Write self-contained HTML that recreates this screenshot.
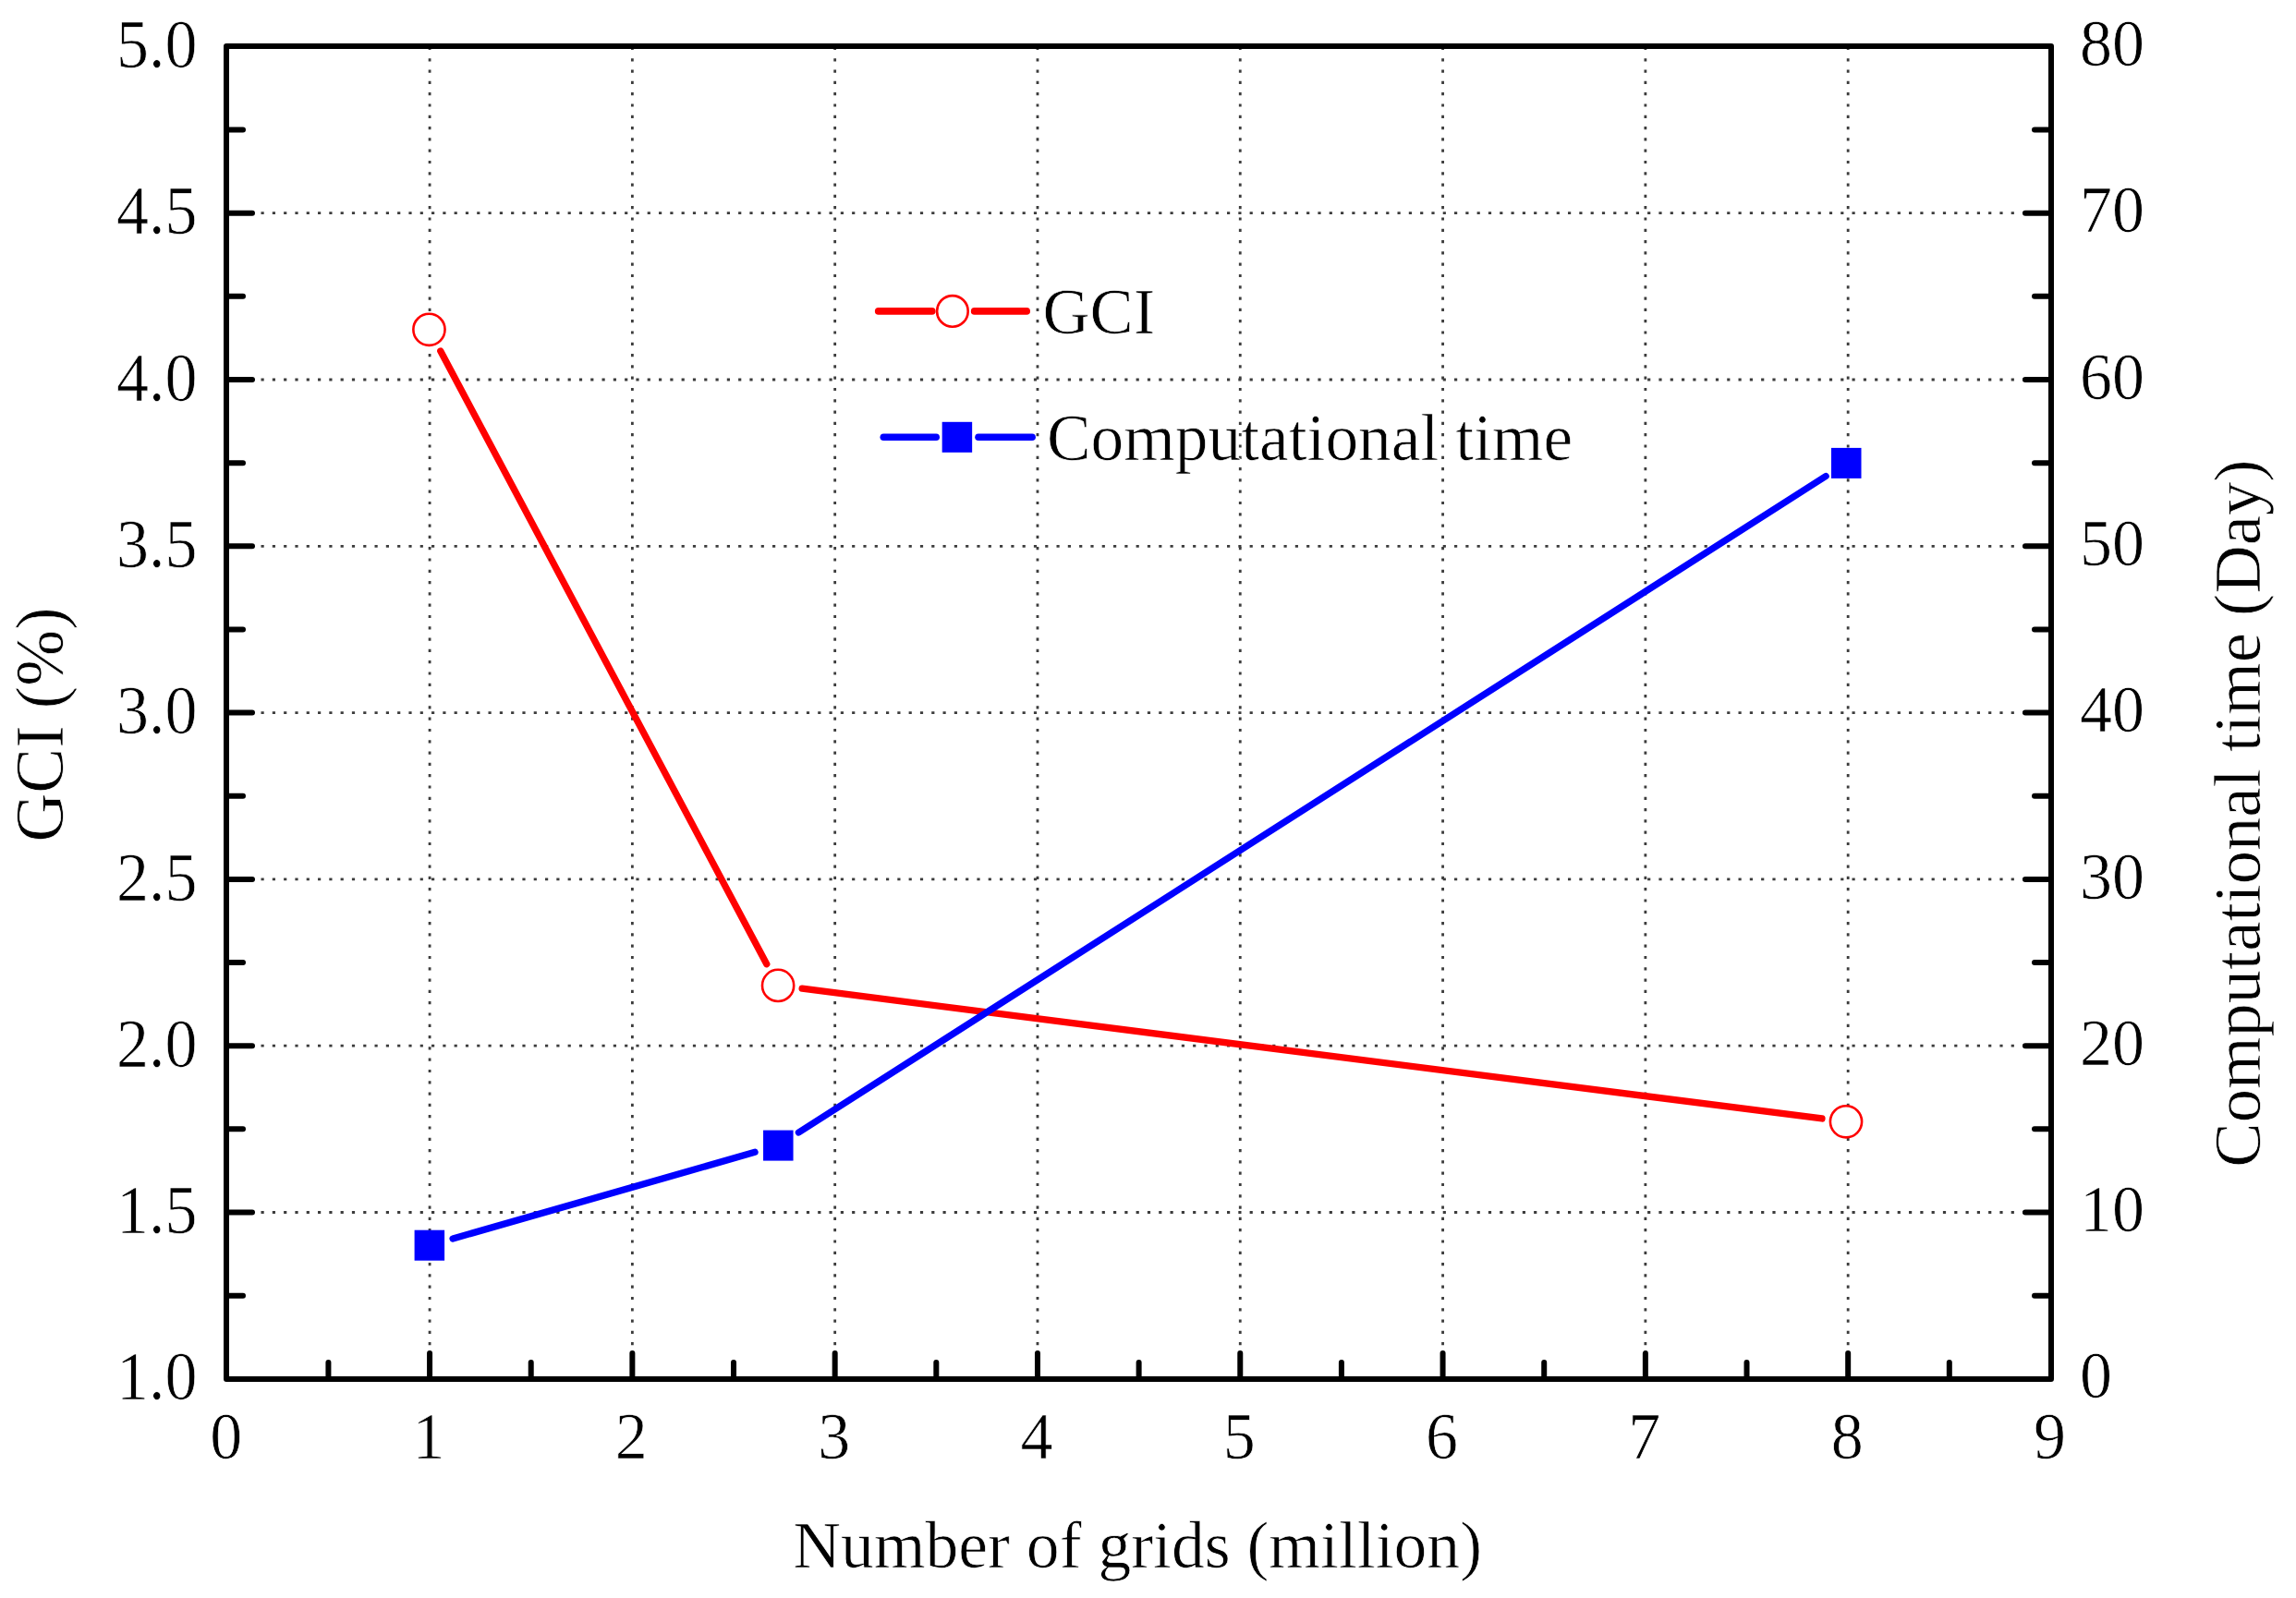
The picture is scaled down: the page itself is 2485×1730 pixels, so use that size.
<!DOCTYPE html>
<html lang="en"><head><meta charset="utf-8"><title>GCI and computational time vs number of grids</title>
<style>html,body{margin:0;padding:0;background:#fff}body{width:2485px;height:1730px;overflow:hidden}svg{display:block}text{font-family:"Liberation Serif","Times New Roman",Times,serif;font-size:70px;fill:#000;stroke:#fff;stroke-width:0.7px}</style></head><body>
<svg width="2485" height="1730" viewBox="0 0 2485 1730">
<rect width="2485" height="1730" fill="#fff"/>
<g stroke="#3c3c3c" stroke-width="2.8" stroke-dasharray="3.2 9.1" fill="none">
<line x1="465.07" y1="50.90" x2="465.07" y2="1493.10"/>
<line x1="684.37" y1="50.90" x2="684.37" y2="1493.10"/>
<line x1="903.67" y1="50.90" x2="903.67" y2="1493.10"/>
<line x1="1122.97" y1="50.90" x2="1122.97" y2="1493.10"/>
<line x1="1342.27" y1="50.90" x2="1342.27" y2="1493.10"/>
<line x1="1561.57" y1="50.90" x2="1561.57" y2="1493.10"/>
<line x1="1780.87" y1="50.90" x2="1780.87" y2="1493.10"/>
<line x1="2000.17" y1="50.90" x2="2000.17" y2="1493.10"/>
<line x1="245.60" y1="1312.50" x2="2220.00" y2="1312.50"/>
<line x1="245.60" y1="1132.20" x2="2220.00" y2="1132.20"/>
<line x1="245.60" y1="951.90" x2="2220.00" y2="951.90"/>
<line x1="245.60" y1="771.60" x2="2220.00" y2="771.60"/>
<line x1="245.60" y1="591.30" x2="2220.00" y2="591.30"/>
<line x1="245.60" y1="411.00" x2="2220.00" y2="411.00"/>
<line x1="245.60" y1="230.70" x2="2220.00" y2="230.70"/>
</g>
<line x1="476.78" y1="379.98" x2="829.77" y2="1043.72" stroke="#f00" stroke-width="7.3" stroke-linecap="round"/>
<line x1="868.14" y1="1070.22" x2="1971.96" y2="1210.98" stroke="#f00" stroke-width="7.3" stroke-linecap="round"/>
<line x1="490.09" y1="1340.97" x2="817.06" y2="1247.33" stroke="#00f" stroke-width="7.3" stroke-linecap="round"/>
<line x1="864.42" y1="1225.96" x2="1976.13" y2="515.54" stroke="#00f" stroke-width="7.3" stroke-linecap="round"/>
<circle cx="464.45" cy="356.80" r="17.10" fill="#fff" stroke="#f00" stroke-width="2.6"/>
<circle cx="842.10" cy="1066.90" r="17.10" fill="#fff" stroke="#f00" stroke-width="2.6"/>
<circle cx="1998.00" cy="1214.30" r="17.10" fill="#fff" stroke="#f00" stroke-width="2.6"/>
<rect x="448.60" y="1331.70" width="32.5" height="33.0" fill="#00f"/>
<rect x="826.05" y="1223.60" width="32.5" height="33.0" fill="#00f"/>
<rect x="1982.00" y="484.90" width="32.5" height="33.0" fill="#00f"/>
<g stroke="#000" stroke-width="6" stroke-linecap="round">
<line x1="355.42" y1="1491.10" x2="355.42" y2="1475.10"/>
<line x1="465.07" y1="1491.10" x2="465.07" y2="1465.10"/>
<line x1="574.72" y1="1491.10" x2="574.72" y2="1475.10"/>
<line x1="684.37" y1="1491.10" x2="684.37" y2="1465.10"/>
<line x1="794.02" y1="1491.10" x2="794.02" y2="1475.10"/>
<line x1="903.67" y1="1491.10" x2="903.67" y2="1465.10"/>
<line x1="1013.32" y1="1491.10" x2="1013.32" y2="1475.10"/>
<line x1="1122.97" y1="1491.10" x2="1122.97" y2="1465.10"/>
<line x1="1232.62" y1="1491.10" x2="1232.62" y2="1475.10"/>
<line x1="1342.27" y1="1491.10" x2="1342.27" y2="1465.10"/>
<line x1="1451.92" y1="1491.10" x2="1451.92" y2="1475.10"/>
<line x1="1561.57" y1="1491.10" x2="1561.57" y2="1465.10"/>
<line x1="1671.22" y1="1491.10" x2="1671.22" y2="1475.10"/>
<line x1="1780.87" y1="1491.10" x2="1780.87" y2="1465.10"/>
<line x1="1890.52" y1="1491.10" x2="1890.52" y2="1475.10"/>
<line x1="2000.17" y1="1491.10" x2="2000.17" y2="1465.10"/>
<line x1="2109.82" y1="1491.10" x2="2109.82" y2="1475.10"/>
<line x1="247.00" y1="1402.65" x2="263.00" y2="1402.65"/>
<line x1="2218.00" y1="1402.65" x2="2202.00" y2="1402.65"/>
<line x1="247.00" y1="1312.50" x2="273.00" y2="1312.50"/>
<line x1="2218.00" y1="1312.50" x2="2192.00" y2="1312.50"/>
<line x1="247.00" y1="1222.35" x2="263.00" y2="1222.35"/>
<line x1="2218.00" y1="1222.35" x2="2202.00" y2="1222.35"/>
<line x1="247.00" y1="1132.20" x2="273.00" y2="1132.20"/>
<line x1="2218.00" y1="1132.20" x2="2192.00" y2="1132.20"/>
<line x1="247.00" y1="1042.05" x2="263.00" y2="1042.05"/>
<line x1="2218.00" y1="1042.05" x2="2202.00" y2="1042.05"/>
<line x1="247.00" y1="951.90" x2="273.00" y2="951.90"/>
<line x1="2218.00" y1="951.90" x2="2192.00" y2="951.90"/>
<line x1="247.00" y1="861.75" x2="263.00" y2="861.75"/>
<line x1="2218.00" y1="861.75" x2="2202.00" y2="861.75"/>
<line x1="247.00" y1="771.60" x2="273.00" y2="771.60"/>
<line x1="2218.00" y1="771.60" x2="2192.00" y2="771.60"/>
<line x1="247.00" y1="681.45" x2="263.00" y2="681.45"/>
<line x1="2218.00" y1="681.45" x2="2202.00" y2="681.45"/>
<line x1="247.00" y1="591.30" x2="273.00" y2="591.30"/>
<line x1="2218.00" y1="591.30" x2="2192.00" y2="591.30"/>
<line x1="247.00" y1="501.15" x2="263.00" y2="501.15"/>
<line x1="2218.00" y1="501.15" x2="2202.00" y2="501.15"/>
<line x1="247.00" y1="411.00" x2="273.00" y2="411.00"/>
<line x1="2218.00" y1="411.00" x2="2192.00" y2="411.00"/>
<line x1="247.00" y1="320.85" x2="263.00" y2="320.85"/>
<line x1="2218.00" y1="320.85" x2="2202.00" y2="320.85"/>
<line x1="247.00" y1="230.70" x2="273.00" y2="230.70"/>
<line x1="2218.00" y1="230.70" x2="2192.00" y2="230.70"/>
<line x1="247.00" y1="140.55" x2="263.00" y2="140.55"/>
<line x1="2218.00" y1="140.55" x2="2202.00" y2="140.55"/>
</g>
<rect x="245.00" y="50.00" width="1975.00" height="1443.10" fill="none" stroke="#000" stroke-linejoin="round" stroke-width="6.0"/>
<text transform="translate(244.77 1579.3) scale(1 1.02)" text-anchor="middle">0</text>
<text transform="translate(464.07 1579.3) scale(1 1.02)" text-anchor="middle">1</text>
<text transform="translate(683.37 1579.3) scale(1 1.02)" text-anchor="middle">2</text>
<text transform="translate(902.67 1579.3) scale(1 1.02)" text-anchor="middle">3</text>
<text transform="translate(1121.97 1579.3) scale(1 1.02)" text-anchor="middle">4</text>
<text transform="translate(1341.27 1579.3) scale(1 1.02)" text-anchor="middle">5</text>
<text transform="translate(1560.57 1579.3) scale(1 1.02)" text-anchor="middle">6</text>
<text transform="translate(1779.87 1579.3) scale(1 1.02)" text-anchor="middle">7</text>
<text transform="translate(1999.17 1579.3) scale(1 1.02)" text-anchor="middle">8</text>
<text transform="translate(2218.47 1579.3) scale(1 1.02)" text-anchor="middle">9</text>
<text transform="translate(213.5 1515.40) scale(1 1.045)" text-anchor="end">1.0</text>
<text transform="translate(213.5 1335.10) scale(1 1.045)" text-anchor="end">1.5</text>
<text transform="translate(213.5 1154.80) scale(1 1.045)" text-anchor="end">2.0</text>
<text transform="translate(213.5 974.50) scale(1 1.045)" text-anchor="end">2.5</text>
<text transform="translate(213.5 794.20) scale(1 1.045)" text-anchor="end">3.0</text>
<text transform="translate(213.5 613.90) scale(1 1.045)" text-anchor="end">3.5</text>
<text transform="translate(213.5 433.60) scale(1 1.045)" text-anchor="end">4.0</text>
<text transform="translate(213.5 253.30) scale(1 1.045)" text-anchor="end">4.5</text>
<text transform="translate(213.5 73.00) scale(1 1.045)" text-anchor="end">5.0</text>
<text transform="translate(2251 1513.40) scale(1 1.025)">0</text>
<text transform="translate(2251 1333.10) scale(1 1.025)">10</text>
<text transform="translate(2251 1152.80) scale(1 1.025)">20</text>
<text transform="translate(2251 972.50) scale(1 1.025)">30</text>
<text transform="translate(2251 792.20) scale(1 1.025)">40</text>
<text transform="translate(2251 611.90) scale(1 1.025)">50</text>
<text transform="translate(2251 431.60) scale(1 1.025)">60</text>
<text transform="translate(2251 251.30) scale(1 1.025)">70</text>
<text transform="translate(2251 71.00) scale(1 1.025)">80</text>
<text x="1231.2" y="1696.7" text-anchor="middle" style="font-size:71.6px">Number of grids (million)</text>
<text transform="translate(68 784.5) rotate(-90)" text-anchor="middle" style="font-size:73.2px">GCI (%)</text>
<text transform="translate(2445.5 880.7) rotate(-90)" text-anchor="middle" style="font-size:72.6px">Computational time (Day)</text>
<line x1="950.70" y1="336.90" x2="1008.80" y2="336.90" stroke="#f00" stroke-width="7.6" stroke-linecap="round"/>
<line x1="1054.60" y1="336.90" x2="1111.20" y2="336.90" stroke="#f00" stroke-width="7.6" stroke-linecap="round"/>
<circle cx="1030.9" cy="336.9" r="16.80" fill="#fff" stroke="#f00" stroke-width="2.6"/>
<line x1="956.30" y1="473.30" x2="1013.20" y2="473.30" stroke="#00f" stroke-width="7.6" stroke-linecap="round"/>
<line x1="1059.00" y1="473.30" x2="1117.10" y2="473.30" stroke="#00f" stroke-width="7.6" stroke-linecap="round"/>
<rect x="1019.65" y="456.80" width="32.5" height="33.0" fill="#00f"/>
<text x="1128.5" y="361" style="font-size:70.7px">GCI</text>
<text x="1133" y="498" style="font-size:71.4px">Computational time</text>
</svg></body></html>
